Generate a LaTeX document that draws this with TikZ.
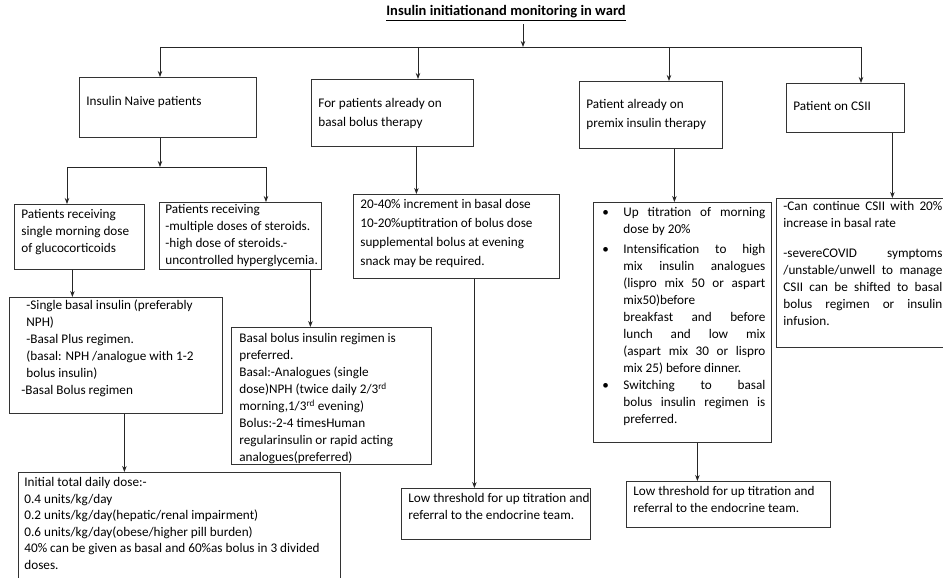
\documentclass[tikz,border=0pt]{standalone}
\usepackage{fontspec}
\setmainfont{Carlito}
\usetikzlibrary{arrows.meta}
\newcommand{\boxfont}{\fontsize{13.2}{17}\selectfont}

\begin{document}
\begin{tikzpicture}[
                    x=1pt, y=-1pt,
                    location/.style={
                        rectangle,
                        draw=black!80,
                        line width=0.8pt,
                        inner sep=0pt,
                        anchor=north west
                    },
                    ->,
                    >={Stealth[length=6pt,width=4.5pt]},
                    line width=0.8pt,
                    draw=black!85
                ]
                \useasboundingbox (0,0) rectangle (943,578);
                \newcommand{\mkbox}[6]{
                    \node (#1) [location] at (#2,#3) {
                        \parbox[c][#5pt][t]{#4pt}{\boxfont\raggedright\leftskip=7pt\vspace*{5pt}#6}
                    };
                }
                \node (title) at (506,13) {\fontsize{14.5}{16}\selectfont\bfseries\underline{Insulin initiationand monitoring in ward}};

                % first row
                \mkbox{naive}{79}{77}{177}{60}{\vspace*{14pt}Insulin Naive patients}
                \mkbox{bbhead}{311}{79}{162}{67}{\vspace*{14pt}\fontsize{13.2}{19}\selectfont For patients already on\\ basal bolus therapy}
                \mkbox{premixhead}{579}{81}{143}{67}{\vspace*{13pt}\fontsize{13.2}{19}\selectfont Patient already on\\ premix insulin therapy}
                \mkbox{csii}{786}{83}{118}{49}{\vspace*{13pt}Patient on CSII}

                % second row
                \mkbox{single}{14}{204}{130}{65}{\vspace*{0pt}Patients receiving\\ single morning dose\\ of glucocorticoids}
                \mkbox{steroid}{159}{202}{162}{67}{\vspace*{-3pt}\fontsize{13.2}{17}\selectfont\leftskip=6pt Patients receiving\\ -multiple doses of steroids.\\ -high dose of steroids.-\\ uncontrolled hyperglycemia.}
                \mkbox{bbdetail}{353}{194}{206}{84}{\fontsize{13.2}{19}\selectfont 20-40\% increment in basal dose\\ 10-20\%uptitration of bolus dose\\ supplemental bolus at evening\\ snack may be required.}
                \mkbox{premixdet}{593}{202}{178}{240}{\vspace*{0pt}\rightskip=6pt
                    \hangindent=23pt\hangafter=1\makebox[23pt][l]{\hspace{2pt}\textbullet}Up titration of morning\linebreak dose by 20\%\par\vspace{3pt}
                    \hangindent=23pt\hangafter=1\makebox[23pt][l]{\hspace{2pt}\textbullet}Intensification to high\linebreak mix insulin analogues\linebreak (lispro mix 50 or aspart\linebreak mix50)before\newline breakfast and before\linebreak lunch and low mix\linebreak (aspart mix 30 or lispro\linebreak mix 25) before dinner.\par
                    \hangindent=23pt\hangafter=1\makebox[23pt][l]{\hspace{2pt}\textbullet}Switching to basal\linebreak bolus insulin regimen is\linebreak preferred.\par}
                \mkbox{csiidet}{776}{198}{170}{149}{\vspace*{-2pt}\rightskip=4pt -Can continue CSII with 20\%\linebreak increase in basal rate\par\vspace{13pt}
                    -severeCOVID symptoms\linebreak /unstable/unwell to manage\linebreak CSII can be shifted to basal\linebreak bolus regimen or insulin\linebreak infusion.\par}

                % third row
                \mkbox{singlebasal}{9}{297}{213}{116}{\vspace*{-3pt}\leftskip=12pt\hspace{5pt}-Single basal insulin (preferably\\ \hspace{5pt}NPH)\\ \hspace{5pt}-Basal Plus regimen.\\ \hspace{5pt}(basal: NPH /analogue with 1-2\\ \hspace{5pt}bolus insulin)\\ -Basal Bolus regimen}
                \mkbox{bbregimen}{231}{327}{200}{137}{\vspace*{1pt}\leftskip=8pt Basal bolus insulin regimen is\\ preferred.\\ Basal:-Analogues (single\\ dose)NPH (twice daily 2/3\textsuperscript{rd}\\ morning,1/3\textsuperscript{rd} evening)\\ Bolus:-2-4 timesHuman\\ regularinsulin or rapid acting\\ analogues(preferred)}

                % bottom row
                \mkbox{dose}{18}{472}{322}{110}{\fontsize{13.2}{16.5}\selectfont\leftskip=6pt Initial total daily dose:-\\ 0.4 units/kg/day\\ 0.2 units/kg/day(hepatic/renal impairment)\\ 0.6 units/kg/day(obese/higher pill burden)\\ 40\% can be given as basal and 60\%as bolus in 3 divided\\ doses.}
                \mkbox{lowA}{401}{488}{189}{51}{Low threshold for up titration and\\ referral to the endocrine team.}
                \mkbox{lowB}{626}{481}{204}{46}{Low threshold for up titration and\\ referral to the endocrine team.}

                % connectors
                \coordinate (top) at (523,47);
                \coordinate (t1) at (160,47);
                \coordinate (t2) at (418,47);
                \coordinate (t3) at (669,47);
                \coordinate (t4) at (861,47);
                \coordinate (s1) at (67,167);
                \coordinate (s2) at (266,167);

                \draw (title.south -| top) -- (top);
                \draw[-] (t1) -- (t4);
                \draw (t1) -- (t1 |- naive.north);
                \draw (t2) -- (t2 |- bbhead.north);
                \draw (t3) -- (t3 |- premixhead.north);
                \draw (t4) -- (t4 |- csii.north);

                \draw (naive.south -| t1) -- (t1 |- s1);
                \draw[-] (s1) -- (s2);
                \draw (s1) -- (s1 |- single.north);
                \draw (s2) -- (s2 |- steroid.north);

                \draw ([xshift=-7pt]single.south) -- ([xshift=-7pt]single.south |- singlebasal.north);
                \draw ([xshift=70pt]steroid.south) -- ([xshift=70pt]steroid.south |- bbregimen.north);
                \draw ([xshift=8.5pt]singlebasal.south) -- ([xshift=8.5pt]singlebasal.south |- dose.north);
                \draw ([xshift=24pt]bbhead.south) -- ([xshift=24pt]bbhead.south |- bbdetail.north);
                \draw ([xshift=18pt]bbdetail.south) -- ([xshift=18pt]bbdetail.south |- lowA.north);
                \draw ([xshift=23.5pt]premixhead.south) -- ([xshift=23.5pt]premixhead.south |- premixdet.north);
                \draw ([xshift=15pt]premixdet.south) -- ([xshift=15pt]premixdet.south |- lowB.north);
                \draw ([xshift=47pt]csii.south) -- ([xshift=47pt]csii.south |- csiidet.north);
            \end{tikzpicture}
\end{document}
